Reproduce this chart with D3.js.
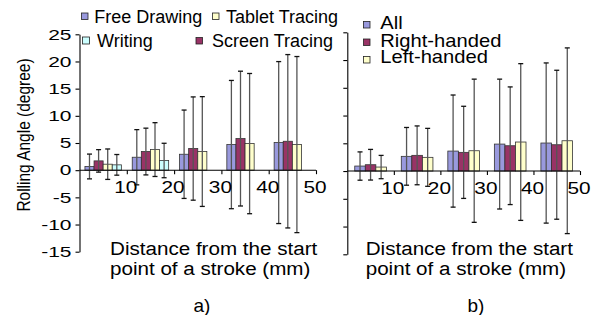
<!doctype html>
<html lang="en">
<head>
  <meta charset="utf-8">
  <title>rolling angle</title>
  <style>
  body { margin: 0; background: #fff; }
  svg { font-family: "Liberation Sans", Arial, sans-serif; }
  .axis path, .axis line { stroke: #000; stroke-width: 1.1; }
  .err { stroke: #555; stroke-width: 1.3; }
  </style>
</head>
<body>
<script src="https://d3js.org/d3.v7.min.js"></script>
<script>

// ---------------- data
var dist = [5, 15, 25, 35, 45];            // group centres, mm
var xTickVals = [10, 20, 30, 40, 50];
var yTickVals = [-15, -10, -5, 0, 5, 10, 15, 20, 25];

// panel a) : by task
var taskNames = ["Free Drawing", "Screen Tracing", "Tablet Tracing", "Writing"];
var freeDrawMean   = [0.68, 2.38, 2.93, 4.71, 5.08];
var freeDrawSd     = [2.28, 5.08, 8.13, 11.8, 14.9];
var screenTraceMean = [1.71, 3.43, 3.98, 5.81, 5.32];
var screenTraceSd   = [2.07, 4.30, 9.50, 12.4, 15.95];
var tabletTraceMean = [1.10, 3.79, 3.43, 4.89, 4.71];
var tabletTraceSd   = [2.80, 4.95, 10.1, 12.9, 16.2];
var writingMean    = [0.98, 1.78, null, null, null];
var writingSd      = [1.90, 3.17, null, null, null];

// panel b) : by handedness
var handNames = ["All", "Right-handed", "Left-handed"];
var allMean   = [0.90, 2.65, 3.60, 4.86, 5.05];
var allSd     = [2.55, 5.20, 10.1, 11.7, 14.43];
var rightMean = [1.14, 2.83, 3.37, 4.56, 4.74];
var rightSd   = [2.76, 5.30, 8.30, 10.6, 13.42];
var leftMean  = [0.72, 2.47, 3.66, 5.23, 5.46];
var leftSd    = [2.10, 5.22, 12.9, 14.12, 16.73];

var purple = "#9999dd", plum = "#993366", ivory = "#ffffcc", aqua = "#ccffff";

var svg = d3.select("body").append("svg")
    .attr("width", 597)
    .attr("height", 315);

// text helper, the picture's lettering is a bit wider than tall
function txt(x, y, s, size, sx, anchor) {
  return svg.append("text")
      .attr("transform", "translate(" + x + "," + y + ") scale(" + sx + ",1)")
      .attr("text-anchor", anchor || "start")
      .attr("font-size", size + "px")
      .attr("fill", "#000")
      .text(s);
}

function panel(cfg) {
  var x = d3.scaleLinear().domain([0, 50]).range(cfg.xr);
  var y = d3.scaleLinear().domain([-15, 25]).range(cfg.yr);
  var band = d3.scaleBand().domain(cfg.series.map(function(s) { return s.name; }))
      .range([0, x(cfg.groupW) - x(0)]);
  var g = svg.append("g");

  var rows = [];
  cfg.series.forEach(function(s) {
    s.mean.forEach(function(m, i) {
      if (m != null) rows.push({name: s.name, color: s.color, c: dist[i], m: m, sd: s.sd[i]});
    });
  });

  g.selectAll("rect.bar").data(rows).enter()
    .append("rect")
    .attr("class", "bar")
    .attr("x", function(d) { return x(d.c - cfg.groupW / 2) + band(d.name); })
    .attr("width", band.bandwidth())
    .attr("y", function(d) { return y(Math.max(0, d.m)); })
    .attr("height", function(d) { return Math.abs(y(d.m) - y(0)); })
    .attr("fill", function(d) { return d.color; })
    .attr("stroke", "#333")
    .attr("stroke-width", 0.8);

  // error bars
  var cx = function(d) { return x(d.c - cfg.groupW / 2) + band(d.name) + band.bandwidth() / 2; };
  var eg = g.append("g").attr("class", "err");
  eg.selectAll("line.v").data(rows).enter().append("line")
    .attr("x1", cx).attr("x2", cx)
    .attr("y1", function(d) { return y(d.m + d.sd); })
    .attr("y2", function(d) { return y(d.m - d.sd); });
  [1, -1].forEach(function(k) {
    eg.selectAll(null).data(rows).enter().append("line")
      .attr("stroke", "#111")
      .attr("x1", function(d) { return cx(d) - 2.5; })
      .attr("x2", function(d) { return cx(d) + 2.5; })
      .attr("y1", function(d) { return y(d.m + k * d.sd); })
      .attr("y2", function(d) { return y(d.m + k * d.sd); });
  });

  // y axis
  var ya = svg.append("g").attr("class", "axis")
      .attr("transform", "translate(" + x(0) + ",0)")
      .call(d3.axisLeft(y).tickValues(yTickVals).tickSize(4).tickSizeOuter(0)
            .tickFormat(function(d) { return cfg.yLabels ? String(d) : ""; }));
  ya.selectAll("text")
      .attr("font-size", "15px")
      .attr("font-family", "Liberation Sans, Arial, sans-serif")
      .attr("fill", "#000")
      .attr("x", -8 / 1.4)
      .attr("transform", "scale(1.4,1)");

  // x axis at zero
  var xa = svg.append("g").attr("class", "axis")
      .attr("transform", "translate(0," + y(0) + ")")
      .call(d3.axisBottom(x).tickValues(xTickVals).tickSize(4).tickSizeOuter(0).tickPadding(7.4));
  xa.selectAll("text")
      .attr("font-size", "16px")
      .attr("font-family", "Liberation Sans, Arial, sans-serif")
      .attr("fill", "#000")
      .attr("x", -1.5 / 1.3)
      .attr("transform", "scale(1.3,1)");
  xa.select(".domain").attr("d", "M" + x(0) + ",0H" + x(50));

  // axis title
  txt(cfg.titleX, 255, "Distance from the start", 19, 1.085);
  txt(cfg.titleX, 275, "point of a stroke (mm)", 19, 1.085);
  txt(cfg.tagX, 312, cfg.tag, 19, 1.0, "middle");
}

panel({
  xr: [79.5, 316], yr: [251.7, 34.3], groupW: 7.7, yLabels: true,
  titleX: 110, tagX: 202, tag: "a)",
  series: [
    {name: taskNames[0], color: purple, mean: freeDrawMean, sd: freeDrawSd},
    {name: taskNames[1], color: plum, mean: screenTraceMean, sd: screenTraceSd},
    {name: taskNames[2], color: ivory, mean: tabletTraceMean, sd: tabletTraceSd},
    {name: taskNames[3], color: aqua, mean: writingMean, sd: writingSd}
  ]
});

panel({
  xr: [347.3, 580], yr: [254.3, 32.3], groupW: 6.8, yLabels: false,
  titleX: 365.7, tagX: 476, tag: "b)",
  series: [
    {name: handNames[0], color: purple, mean: allMean, sd: allSd},
    {name: handNames[1], color: plum, mean: rightMean, sd: rightSd},
    {name: handNames[2], color: ivory, mean: leftMean, sd: leftSd}
  ]
});

// y axis title
svg.append("text")
    .attr("transform", "translate(30,135) rotate(-90) scale(1,1.15)")
    .attr("text-anchor", "middle")
    .attr("font-size", "15.5px")
    .text("Rolling Angle (degree)");

// legends
function key(sqx, sqy, sz, tx, ty, color, label, size, sx) {
  svg.append("rect")
      .attr("x", sqx).attr("y", sqy).attr("width", sz).attr("height", sz)
      .attr("fill", color).attr("stroke", "#222").attr("stroke-width", 0.8);
  txt(tx, ty, label, size, sx);
}
key(81.5, 13, 6.5, 94.3, 23.3, purple, taskNames[0], 18, 1.0);
key(212.5, 13, 6.5, 226, 23.3, ivory, taskNames[2], 18, 1.0);
key(82.5, 37, 7, 97, 46.7, aqua, taskNames[3], 18, 1.0);
key(196, 37.5, 6.5, 212, 47, plum, taskNames[1], 18, 1.0);

key(363.5, 21.5, 6.5, 380.3, 29.3, purple, handNames[0], 18, 1.12);
key(363.5, 39, 6.5, 380.3, 46.7, plum, handNames[1], 18, 1.12);
key(363.5, 56.5, 6.5, 380.3, 63.3, ivory, handNames[2], 18, 1.12);

</script>
</body>
</html>
